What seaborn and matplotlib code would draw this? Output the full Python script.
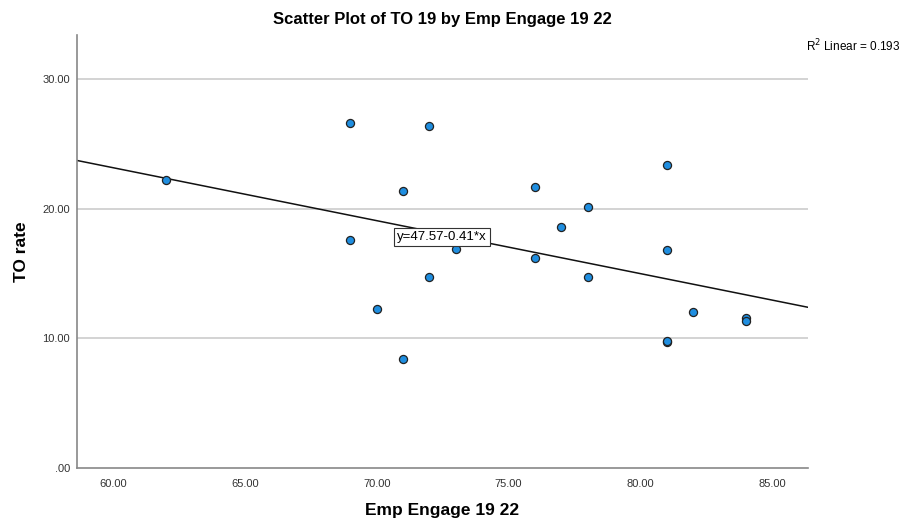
import numpy as np
import pandas as pd
import matplotlib
matplotlib.use('Agg')
import matplotlib.pyplot as plt
import seaborn as sns

# data
emp_engage = [62, 69, 72, 71, 76, 69, 73, 76, 72, 70, 71,
              78, 77, 78, 81, 81, 82, 84, 84, 81, 81]
to_rate = [22.2, 26.6, 26.4, 21.4, 21.7, 17.6, 16.9, 16.2, 14.7, 12.3, 8.4,
           20.1, 18.6, 14.7, 23.4, 16.8, 12.0, 11.6, 11.3, 9.7, 9.8]
x_ticks = [60, 65, 70, 75, 80, 85]
y_ticks = [0, 10, 20, 30]
equation = 'y=47.57-0.41*x'
r2_text = 'R$^2$ Linear = 0.193'

df = pd.DataFrame({'Emp Engage 19 22': emp_engage, 'TO rate': to_rate})

sns.set_style('white')
plt.rcParams['font.family'] = ['Liberation Sans', 'DejaVu Sans']
plt.rcParams['text.color'] = 'black'
plt.rcParams['axes.labelcolor'] = 'black'

fig = plt.figure(figsize=(9.03, 5.23), dpi=100)
ax = fig.add_axes([0.0853, 0.1052, 0.8095, 0.828])

ax.set_xlim(58.62, 86.37)
ax.set_ylim(0, 33.4)

# grid lines behind
for yv in y_ticks[1:]:
    ax.axhline(yv, color='#c8c8c8', lw=1.1, zorder=0)

sns.regplot(data=df, x='Emp Engage 19 22', y='TO rate', ax=ax, ci=None, truncate=False,
            scatter_kws=dict(s=34, color='#1f8ee0', edgecolor='#222222', linewidths=0.9, alpha=1, zorder=3),
            line_kws=dict(color='#111111', lw=1.1, zorder=2))

ax.set_xticks(x_ticks)
ax.set_xticklabels([f'{v:.2f}' for v in x_ticks])
ax.set_yticks(y_ticks)
ax.set_yticklabels(['.00' if v == 0 else f'{v:.2f}' for v in y_ticks])
ax.tick_params(axis='both', length=0, labelsize=8, colors='#333333', pad=8)
ax.tick_params(axis='y', pad=5)

for side in ['top', 'right']:
    ax.spines[side].set_visible(False)
for side in ['left', 'bottom']:
    ax.spines[side].set_color('#888888')
    ax.spines[side].set_linewidth(1.2)

ax.set_title('Scatter Plot of TO 19 by Emp Engage 19 22', fontsize=12, fontweight='bold', pad=8)
ax.set_xlabel('Emp Engage 19 22', fontsize=12.5, fontweight='bold', labelpad=10)
ax.set_ylabel('TO rate', fontsize=12.5, fontweight='bold', labelpad=10)

ax.text(70.77, 17.8, equation, fontsize=9.5, ha='left', va='center', zorder=5,
        bbox=dict(boxstyle='square,pad=0.25', facecolor='white', edgecolor='#333333', lw=0.8))
fig.text(0.997, 0.912, r2_text, fontsize=8.5, ha='right', va='center')

fig.savefig('out.png', dpi=100)
